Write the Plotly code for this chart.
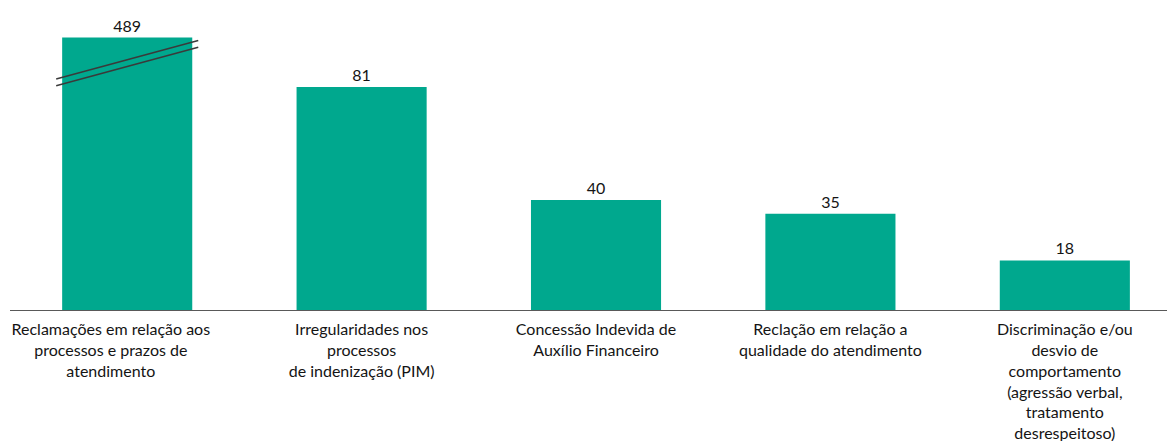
import plotly.graph_objects as go

categorias = [
    "Reclamações em relação aos<br>processos e prazos de<br>atendimento",
    "Irregularidades nos<br>processos<br>de indenização (PIM)",
    "Concessão Indevida de<br>Auxílio Financeiro",
    "Reclação em relação a<br>qualidade do atendimento",
    "Discriminação e/ou<br>desvio de<br>comportamento<br>(agressão verbal,<br>tratamento<br>desrespeitoso)",
]
valores = [489, 81, 40, 35, 18]
teto = 99  # altura desenhada da barra com eixo quebrado

alturas = [min(v, teto) for v in valores]
x = list(range(len(categorias)))
cor = "#00A88E"
fonte = "Lato"
texto = "#141414"

# no original o primeiro rótulo fica deslocado para a esquerda
pad = "\u00a0" * 8
rotulos = list(categorias)
rotulos[0] = "<br>".join(l + pad for l in categorias[0].split("<br>"))

fig = go.Figure()
fig.add_trace(go.Bar(
    x=x,
    y=alturas,
    width=0.555,
    marker=dict(color=cor, line=dict(width=0)),
    text=[str(v) for v in valores],
    textposition="outside",
    textfont=dict(size=16, color=texto, family=fonte),
    cliponaxis=False,
    hoverinfo="skip",
))

# marca de quebra na barra maior
i = valores.index(max(valores))
x0, x1 = i - 0.303, i + 0.303
g = 2.4
for dy in (0, g):
    fig.add_shape(type="line", x0=x0, y0=teto - 15.1 - dy, x1=x1, y1=teto - 1.1 - dy,
                  line=dict(color="#3a3a3a", width=1.5), layer="above")

# a página tem margem de 8px no body, por isso 1167x433
fig.update_layout(
    width=1167, height=433,
    margin=dict(l=2, r=0, t=2, b=131),
    paper_bgcolor="white", plot_bgcolor="white",
    showlegend=False,
    font=dict(family=fonte, size=16, color=texto),
)
fig.update_xaxes(
    tickmode="array", tickvals=x, ticktext=rotulos,
    range=[-0.5, 4.47],
    showline=True, linecolor="#595959", linewidth=1,
    ticks="", showgrid=False, zeroline=False,
    tickfont=dict(size=16, color=texto, family=fonte),
    tickangle=0, automargin=False, ticklabelstandoff=5,
)
fig.update_yaxes(visible=False, range=[0, 109], showgrid=False, zeroline=False,
                 automargin=False)

fig.write_html("out.html")
